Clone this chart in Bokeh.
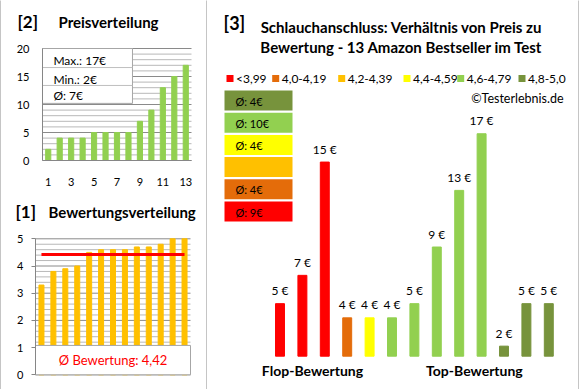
import math
from bokeh.plotting import figure
from bokeh.layouts import row, column
from bokeh.models import Label, BoxAnnotation, FixedTicker, Range1d, LinearAxis
from bokeh.core.properties import value
from bokeh.embed import file_html
from bokeh.resources import INLINE

# ---------------- data ----------------
product_ids = list(range(1, 14))
ratings = [3.3, 3.8, 3.9, 4.0, 4.5, 4.6, 4.6, 4.6, 4.7, 4.7, 4.8, 5.0, 5.0]
prices = [5, 7, 15, 4, 4, 4, 5, 9, 13, 17, 2, 5, 5]          # EUR, in rating order
price_axis_ticks = [0, 5, 10, 15, 20]
price_minor_ticks = list(range(0, 21))
price_rank_labels = [1, 3, 5, 7, 9, 11, 13]
rating_axis_ticks = [0, 1, 2, 3, 4, 5]
rating_minor_ticks = [round(i * 0.2, 1) for i in range(26)]
bin_labels = ["<3,99", "4,0-4,19", "4,2-4,39", "4,4-4,59", "4,6-4,79", "4,8-5,0"]
bin_lower = [0.0, 4.0, 4.2, 4.4, 4.6, 4.8]
bin_colors = ["#ff0000", "#e46c0a", "#ffc000", "#ffff00", "#92d050", "#77933c"]
group_labels = ["Flop-Bewertung", "Top-Bewertung"]
group_centers = [2.45, 9.68]

# ---------------- derived ----------------
def round_half_up(v):
    return int(math.floor(v + 0.5))

sorted_prices = sorted(prices)
bin_idx = [max(i for i, lo in enumerate(bin_lower) if r >= lo - 1e-9) for r in ratings]
bar_colors = [bin_colors[i] for i in bin_idx]
bin_avgs = []
for b in range(len(bin_labels)):
    vals = [p for p, i in zip(prices, bin_idx) if i == b]
    bin_avgs.append(round_half_up(sum(vals) / len(vals)) if vals else None)
avg_rating = sum(ratings) / len(ratings)

FONT = "Lato"
BORDER = "#8c8c8c"
AXIS = "#868686"
GRID_MAJOR = "#8a8a8a"
GRID_MINOR = "#b8b8b8"
TXT = "#000000"


def xrange_px(W, px0, px1, v0, v1):
    k = (v1 - v0) / (px1 - px0)
    return Range1d(v0 - px0 * k, v0 + (W - px0) * k)


def yrange_px(H, py_top, py_bot, v_top, v_bot):
    k = (v_top - v_bot) / (py_bot - py_top)
    return Range1d(v_bot - (H - py_bot) * k, v_top + py_top * k)


def make_fig(w, h, xr=None, yr=None):
    p = figure(width=w, height=h,
               x_range=xr if xr is not None else Range1d(0, w),
               y_range=yr if yr is not None else Range1d(0, h),
               toolbar_location=None, output_backend="svg",
               min_border_left=0, min_border_right=0, min_border_top=0, min_border_bottom=0,
               x_axis_location=None, y_axis_location=None)
    p.outline_line_color = None
    p.background_fill_color = "white"
    p.border_fill_color = "white"
    p.grid.visible = False
    return p


def sep(w, h):
    s = make_fig(w, h)
    s.background_fill_color = BORDER
    s.border_fill_color = BORDER
    return s


def add_label(p, h, rx, ry, text, size, bold=False, color=TXT, align="left"):
    # (rx, ry): pixel position measured from the canvas top-left (frame == canvas)
    p.add_layout(Label(x=rx, y=h - ry, x_units="screen", y_units="screen", text=text,
                       text_font=FONT, text_font_size=f"{size}px",
                       text_font_style="bold" if bold else "normal",
                       text_color=color, text_align=align, text_baseline="middle"))


def add_box(p, h, rx0, ry0, rx1, ry1, fill):
    p.add_layout(BoxAnnotation(left=rx0, right=rx1, top=h - ry0, bottom=h - ry1,
                               left_units="screen", right_units="screen",
                               top_units="screen", bottom_units="screen",
                               fill_color=fill, fill_alpha=1, line_color=None))


def make_axis(loc, bounds, ticks, tick_out, standoff):
    ax = LinearAxis(fixed_location=loc, bounds=bounds, ticker=FixedTicker(ticks=ticks))
    ax.axis_line_color = AXIS
    ax.major_tick_line_color = AXIS
    ax.major_tick_out = tick_out
    ax.major_tick_in = 0
    ax.minor_tick_out = 0
    ax.minor_tick_in = 0
    ax.major_label_standoff = standoff
    ax.major_label_text_font = FONT
    ax.major_label_text_font_size = "11px"
    ax.major_label_text_color = TXT
    return ax


def grid_lines(p, x0, x1, major, minor):
    mn = [v for v in minor if v not in major]
    p.segment(x0=x0, x1=x1, y0=mn, y1=mn, line_color=GRID_MINOR, line_width=1)
    p.segment(x0=x0, x1=x1, y0=major, y1=major, line_color=GRID_MAJOR, line_width=1)

LW = 205          # left column width
RW = 371          # right panel width

# ================= [2] Preisverteilung =================
H2 = 191
p2 = make_fig(LW, H2, xrange_px(LW, 41, 190, 0.5, 13.5), yrange_px(H2, 47, 159, 20, 0))
grid_lines(p2, 0.5, 13.5, price_axis_ticks, price_minor_ticks)
p2.vbar(x=product_ids, top=sorted_prices, width=0.45, color="#92d050")
# statistics box
p2.quad(left=[0.5], right=[8.35], bottom=[10.2], top=[20], fill_color="white", line_color="#a6a6a6")
p2.segment(x0=[0.5, 0.5], x1=[8.35, 8.35], y0=[16.6, 13.4], y1=[16.6, 13.4], line_color="#bfbfbf")
stats = [f"Max.: {max(prices)}€", f"Min.: {min(prices)}€",
         f"Ø: {round_half_up(sum(prices) / len(prices))}€"]
p2.text(x=[1.45] * 3, y=[17.9, 14.5, 11.6], text=stats, text_font=value(FONT), text_font_size="12px",
        text_baseline="middle", text_align="left", text_color=TXT)
p2.add_layout(make_axis(0.5, (0, 20), price_axis_ticks, 0, 13), "left")
p2.add_layout(make_axis(0, (0.5, 13.5), price_rank_labels, 0, 17), "below")
add_label(p2, H2, 16, 20, "[2]", 17, bold=True)
add_label(p2, H2, 57, 20, "Preisverteilung", 15, bold=True)

# ================= [1] Bewertungsverteilung =================
H1 = 195
p1 = make_fig(LW, H1, xrange_px(LW, 34, 189, 0.5, 13.5), yrange_px(H1, 45.3, 181.3, 5, 0))
grid_lines(p1, 0.5, 13.5, rating_axis_ticks, rating_minor_ticks)
p1.vbar(x=product_ids, top=ratings, width=0.42, color="#ffc000")
p1.line(x=[product_ids[0], product_ids[-1]], y=[avg_rating, avg_rating], line_color="#ff0000", line_width=3)
p1.quad(left=[0.5], right=[13.5], bottom=[0], top=[1.08], fill_color="white", line_color="#a6a6a6")
p1.text(x=[7], y=[0.54], text=["Ø Bewertung: " + f"{avg_rating:.2f}".replace(".", ",")],
        text_font=value(FONT), text_font_size="13px", text_align="center", text_baseline="middle",
        text_color="#ff0000")
p1.add_layout(make_axis(0.5, (0, 5), rating_axis_ticks, 4, 8), "left")
add_label(p1, H1, 14, 18, "[1]", 17, bold=True)
add_label(p1, H1, 47, 18, "Bewertungsverteilung", 15, bold=True)

# ================= [3] Preis zu Bewertung =================
RH = 387
BAR1_X = 72.5        # px from panel left to centre of bar 1
BAR_PITCH = 22.4     # px per product slot
BASE_Y = 354.7       # px from panel top to bar baseline
PX_PER_EUR = 14.16
Y_BASE = 1.29        # value axis starts here
x3 = Range1d(1 - BAR1_X / BAR_PITCH, 1 + (RW - BAR1_X) / BAR_PITCH)
y3 = Range1d(Y_BASE - (RH - BASE_Y) / PX_PER_EUR, Y_BASE + BASE_Y / PX_PER_EUR)
p3 = make_fig(RW, RH, xr=x3, yr=y3)
p3.vbar(x=product_ids, top=prices, bottom=Y_BASE, width=0.4, color=bar_colors)
p3.text(x=product_ids, y=prices, text=[f"{v} €" for v in prices], text_font=value(FONT),
        text_font_size="12px", text_align="center", text_baseline="middle", y_offset=-13,
        text_color=TXT)
for gx, gl in zip(group_centers, group_labels):
    p3.add_layout(Label(x=gx, y=18, x_units="data", y_units="screen", text=gl,
                        text_font=FONT, text_font_size="14px", text_font_style="bold",
                        text_color=TXT, text_align="center", text_baseline="middle"))
add_label(p3, RH, 16, 21, "[3]", 18, bold=True)
add_label(p3, RH, 194, 25, "Schlauchanschluss: Verhältnis von Preis zu", 15, bold=True, align="center")
add_label(p3, RH, 194, 45, "Bewertung - 13 Amazon Bestseller im Test", 15, bold=True, align="center")
# colour legend
legend_x = [19, 64.7, 130.7, 196, 249.7, 311]
for lx, lab, col in zip(legend_x, bin_labels, bin_colors):
    add_box(p3, RH, lx, 73.5, lx + 7, 80.5, col)
    add_label(p3, RH, lx + 9.5, 77, lab, 12)
add_label(p3, RH, 356, 97, "©Testerlebnis.de", 12.5, align="right")
# average price per rating class (top = best class)
for k, b in enumerate(reversed(range(len(bin_labels)))):
    top = 89 + k * 22.2
    add_box(p3, RH, 17, top, 85, top + 20, bin_colors[b])
    if bin_avgs[b] is not None:
        add_label(p3, RH, 28, top + 10.5, f"Ø: {bin_avgs[b]}€", 11)

left_col = column(sep(LW, 1), p2, sep(LW, 1), p1, sep(LW, 1))
right_col = column(sep(RW, 1), p3, sep(RW, 1))
layout = row(sep(1, 389), left_col, sep(1, 389), right_col, sep(1, 389))
open("out.html", "w").write(file_html(layout, INLINE))
